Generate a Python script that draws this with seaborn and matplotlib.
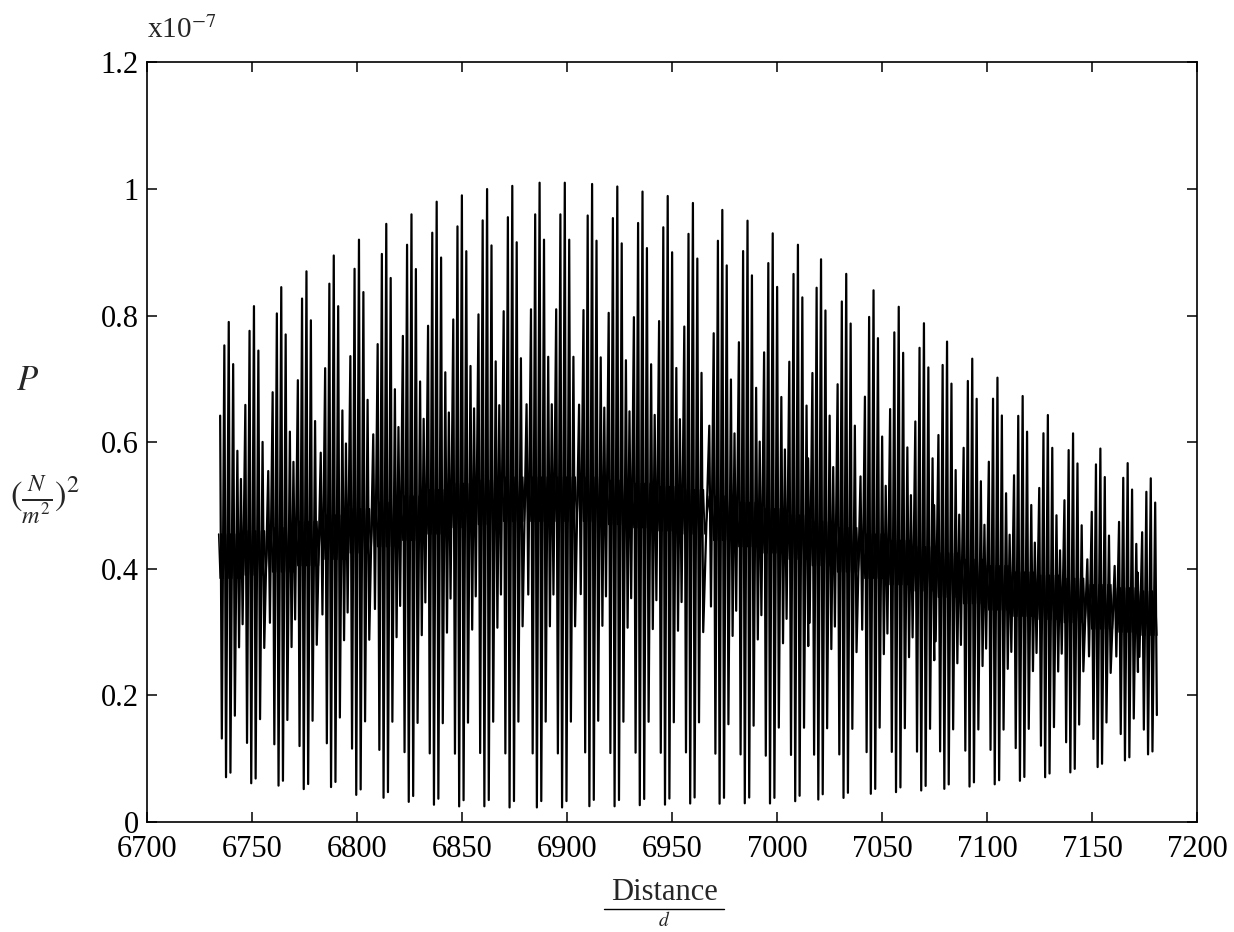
"""
Pressure signal P vs Distance/d, redrawn from a scanned figure
"""
import numpy as np
import pandas as pd
import matplotlib
matplotlib.use("Agg")
import matplotlib.pyplot as plt
from matplotlib.lines import Line2D
import seaborn as sns

# burst peaks (x in Distance/d, P in units of 1e-7)
cluster_x = [6739, 6751, 6764, 6776, 6789, 6801, 6814, 6826, 6838,
             6850, 6862, 6874, 6887, 6899, 6912, 6924, 6936, 6948, 6960,
             6974, 6986, 6998, 7010, 7021, 7033, 7046, 7058, 7070,
             7081, 7093, 7105, 7117, 7129, 7141, 7154, 7167, 7178]
cluster_top = [0.79, 0.815, 0.845, 0.87, 0.895, 0.92, 0.945, 0.96, 0.98,
               0.99, 1.0, 1.005, 1.01, 1.01, 1.008, 1.004, 0.996, 0.989, 0.978,
               0.967, 0.95, 0.93, 0.912, 0.889, 0.866, 0.84, 0.814, 0.788,
               0.759, 0.732, 0.702, 0.673, 0.643, 0.614, 0.59, 0.567, 0.543]
cluster_bottom = [0.06, 0.05, 0.046, 0.04, 0.043, 0.03, 0.025, 0.018, 0.013,
                  0.01, 0.01, 0.008, 0.008, 0.008, 0.01, 0.01, 0.012, 0.013, 0.015,
                  0.015, 0.016, 0.016, 0.02, 0.023, 0.026, 0.033, 0.036, 0.039,
                  0.042, 0.046, 0.05, 0.056, 0.062, 0.07, 0.079, 0.09, 0.10]
cluster_mid = [0.42, 0.425, 0.43, 0.44, 0.45, 0.46, 0.47, 0.48, 0.49,
               0.50, 0.505, 0.51, 0.51, 0.51, 0.51, 0.505, 0.50, 0.495, 0.49,
               0.48, 0.47, 0.46, 0.45, 0.44, 0.43, 0.42, 0.41, 0.40,
               0.39, 0.38, 0.37, 0.36, 0.355, 0.35, 0.34, 0.335, 0.33]

# first and last stroke of the record
signal_start = 6734
signal_end = 7181

# shape of one burst, read from the first cluster:
# stroke offset from the peak and fraction of the swing it reaches
stroke_offset = [-6.2, -4.1, -2.1, 0.0, 2.1, 4.1]
stroke_top_frac = [0.3, 0.6, 0.9, 1.0, 0.82, 0.45]
stroke_bot_frac = [0.3, 0.8, 0.97, 0.95, 0.7, 0.4]
band_halfwidth = 0.035

x_ticks = [6700, 6750, 6800, 6850, 6900, 6950, 7000, 7050, 7100, 7150, 7200]
y_ticks = [0, 0.2, 0.4, 0.6, 0.8, 1.0, 1.2]
y_tick_labels = ['0', '0.2', '0.4', '0.6', '0.8', '1', '1.2']

sns.set_style('ticks')
plt.rcParams['font.family'] = ['Liberation Serif', 'DejaVu Serif']
plt.rcParams['mathtext.fontset'] = 'stix'

# zig-zag through the strokes of every burst
rows = []
for cx, top, bot, mid in zip(cluster_x, cluster_top, cluster_bottom, cluster_mid):
    for off, ft, fb in zip(stroke_offset, stroke_top_frac, stroke_bot_frac):
        x = cx + off
        if x < signal_start or x + 0.8 > signal_end:
            continue
        rows.append((x, mid + (top - mid) * ft))
        rows.append((x + 0.8, mid - (mid - bot) * fb))
signal = pd.DataFrame(rows, columns=['x', 'P'])

# dense band round the running mean
band_rows = []
for cx, mid in zip(cluster_x, cluster_mid):
    for k, dx in enumerate(np.arange(-6.2, 6.2, 0.7)):
        if cx + dx < signal_start or cx + dx > signal_end:
            continue
        sign = 1 if k % 2 == 0 else -1
        band_rows.append((cx + dx, mid + sign * band_halfwidth))
band = pd.DataFrame(band_rows, columns=['x', 'P'])

fig = plt.figure(figsize=(12.34, 9.32), dpi=100)
ax = fig.add_axes([0.119, 0.118, 0.851, 0.815])

sns.lineplot(data=signal, x='x', y='P', sort=False, estimator=None,
             color='black', lw=1.6, ax=ax)
sns.lineplot(data=band, x='x', y='P', sort=False, estimator=None,
             color='black', lw=1.1, ax=ax)

ax.set_xlim(6700, 7200)
ax.set_ylim(0, 1.2)
ax.set_xticks(x_ticks)
ax.set_xticklabels([str(t) for t in x_ticks])
ax.set_yticks(y_ticks)
ax.set_yticklabels(y_tick_labels)
ax.set_xlabel('')
ax.set_ylabel('')
ax.tick_params(axis='both', direction='in', length=7, width=1.1, top=True,
               right=True, labelsize=22, colors='black')
ax.tick_params(axis='x', pad=9)
ax.tick_params(axis='y', pad=6)
for sp in ax.spines.values():
    sp.set_visible(True)
    sp.set_linewidth(1.2)
    sp.set_color('black')

# scale factor and axis labels
fig.text(147 / 1234, 1 - 30 / 932, r'x10$^{-7}$', fontsize=21, va='center', ha='left')
fig.text(28 / 1234, 1 - 382 / 932, r'$P$', fontsize=25, va='center', ha='center')
fig.text(45 / 1234, 1 - 500 / 932, r'$(\frac{N}{m^2})^2$', fontsize=25,
         va='center', ha='center')
fig.text(664 / 1234, 1 - 893 / 932, 'Distance', fontsize=22, va='center', ha='center')
fig.add_artist(Line2D([604 / 1234, 724 / 1234], [1 - 909 / 932, 1 - 909 / 932],
                      color='black', lw=1.0, transform=fig.transFigure))
fig.text(664 / 1234, 1 - 920 / 932, r'$d$', fontsize=14, va='center', ha='center')

fig.savefig('out.png', dpi=100, facecolor='white')
